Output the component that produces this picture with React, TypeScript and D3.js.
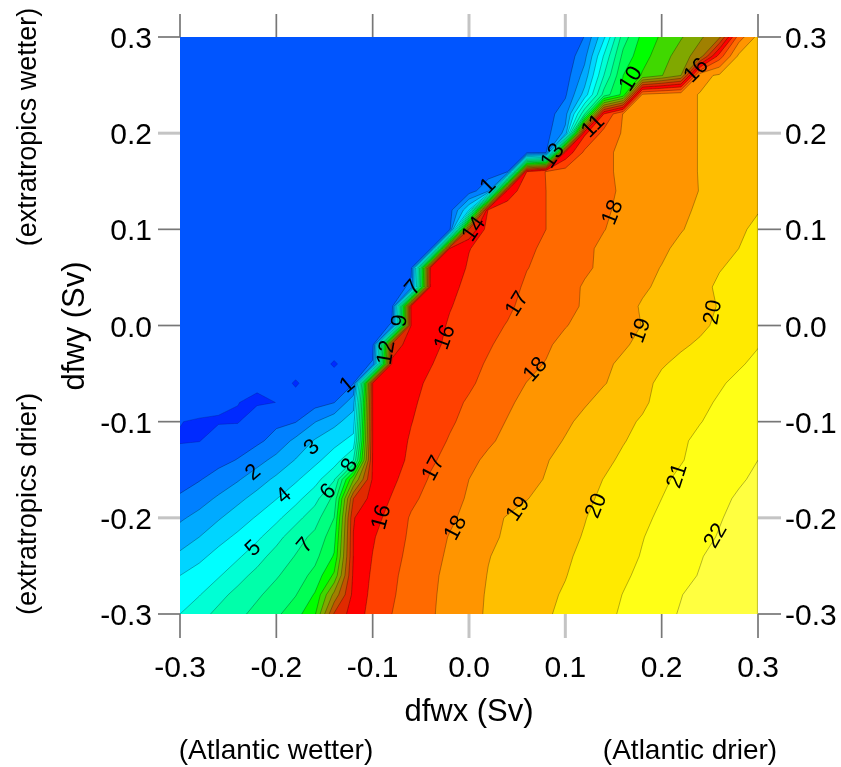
import React from "react";
import * as d3 from "d3";

const W = 841, H = 767;
const levels = d3.range(0, 23);
const bandColors = ["#0055ff","#0080ff","#00aaff","#00d5ff","#00ffff","#00ffd5","#00ffaa","#00ff80","#00ff55","#00ff00","#40d800","#80a800","#a08000","#c05500","#e02a00","#ff0000","#ff3f00","#ff6a00","#ff9500","#ffbf00","#ffea00","#ffff15","#ffff40"];
const belowZero = "#002aff";

const xTicks = [-0.3,-0.2,-0.1,0,0.1,0.2,0.3];
const yTicks = [-0.3,-0.2,-0.1,0,0.1,0.2,0.3];
const softX = [0,0.1];
const softY = [-0.2,0.2];

// Model output (rows: dfwy -0.30 → +0.30 by 0.02; columns: dfwx -0.30 → +0.30 by 0.02)
const r00=[5.0,5.65,6.25,6.75,7.3,7.8,8.6,9.85,14.1,15.5,16.35,17,17.45,17.9,18.3,18.75,19.1,19.38,19.64,19.9,20.2,20.5,20.8,21.1,21.43,21.75,22.07,22.38,22.7,23,23.3];
const r01=[4.5,4.95,5.7,6.3,6.85,7.4,7.95,9.1,12.3,15.3,16.25,16.9,17.4,17.85,18.3,18.7,19.08,19.33,19.6,19.85,20.08,20.37,20.7,21.02,21.33,21.65,21.97,22.3,22.6,22.9,23.2];
const r02=[4.0,4.45,4.9,5.65,6.3,6.9,7.5,8.3,10.2,15.2,16.15,16.85,17.3,17.8,18.25,18.65,19.03,19.25,19.5,19.75,19.97,20.28,20.57,20.88,21.17,21.47,21.76,22.05,22.35,22.65,22.95];
const r03=[3.2,3.75,4.35,4.85,5.6,6.4,7.05,7.7,9.1,15.05,16.03,16.7,17.25,17.7,18.15,18.55,18.97,19.2,19.4,19.65,19.9,20.15,20.45,20.75,21.05,21.35,21.65,21.95,22.25,22.6,22.9];
const r04=[2.5,3.0,3.65,4.2,4.8,5.65,6.6,7.25,8.6,15.02,15.9,16.6,17.15,17.6,18.05,18.45,18.83,19.12,19.35,19.58,19.8,20.05,20.35,20.65,20.97,21.25,21.5,21.8,22.05,22.35,22.6];
const r05=[1.85,2.3,2.9,3.5,4.1,4.75,5.65,6.6,8.0,14.95,15.63,16.37,17.1,17.5,17.85,18.25,18.7,19.07,19.3,19.52,19.75,19.97,20.25,20.55,20.85,21.13,21.4,21.68,21.95,22.2,22.5];
const r06=[1.2,1.6,2.15,2.75,3.35,3.97,4.67,5.65,7.3,14.0,15.4,16.07,16.8,17.3,17.7,18.1,18.35,18.65,18.97,19.27,19.55,19.85,20.13,20.42,20.7,21.0,21.27,21.55,21.82,22.1,22.35];
const r07=[0.45,0.93,1.4,1.9,2.55,3.2,3.85,4.6,5.9,10.9,15.15,15.8,16.45,17.1,17.5,18,18.25,18.5,18.75,19.05,19.37,19.68,20.02,20.3,20.58,20.87,21.15,21.4,21.65,21.9,22.15];
const r08=[0.3,0.45,0.7,1.05,1.65,2.3,3.05,3.75,4.5,6.0,15.05,15.6,16.2,16.85,17.3,17.75,18.2,18.4,18.6,18.95,19.25,19.55,19.8,20.15,20.45,20.7,20.95,21.25,21.5,21.75,22.0];
const r09=[-0.05,-0.02,0.3,0.5,0.8,1.35,2.25,3.1,3.7,4.3,15,15.55,16.1,16.6,17.08,17.45,17.85,18.25,18.45,18.65,19.07,19.4,19.72,19.95,20.26,20.57,20.87,21.2,21.45,21.7,21.95];
const r10=[0.02,-0.09,-0.05,-0.05,0.5,0.8,0.95,1.95,2.7,3.5,15.0,15.55,15.97,16.4,16.87,17.28,17.65,18.05,18.3,18.55,18.82,19.25,19.55,19.83,20.08,20.38,20.68,20.97,21.25,21.55,21.8];
const r11=[0.4,0.4,0.1,0.01,-0.1,0.005,0.4,0.6,0.97,2.6,15.02,15.45,15.85,16.3,16.75,17.1,17.5,17.85,18.25,18.5,18.7,18.9,19.3,19.6,19.87,20.25,20.55,20.8,21.1,21.35,21.6];
const r12=[0.5,0.5,0.5,0.5,0.1,0.5,-0.11,0.5,0.5,0.95,15.0,15.35,15.75,16.15,16.6,16.87,17.25,17.65,18.02,18.35,18.55,18.75,18.95,19.3,19.68,20.25,20.5,20.7,20.9,21.2,21.45];
const r13=[0.5,0.5,0.5,0.5,0.5,0.5,0.5,0.5,-0.11,0.5,1.1,15.2,15.6,15.95,16.35,16.7,17.1,17.4,17.75,18.05,18.4,18.6,18.85,19.15,19.55,19.9,20.25,20.5,20.7,20.9,21.2];
const r14=[0.5,0.5,0.5,0.5,0.5,0.5,0.5,0.5,0.5,0.5,0.6,14.5,15.4,15.75,16.2,16.55,16.9,17.3,17.6,17.85,18.3,18.55,18.75,18.9,19.2,19.55,19.85,20.15,20.4,20.65,20.95];
const r15=[0.5,0.5,0.5,0.5,0.5,0.5,0.5,0.5,0.5,0.5,0.5,1.1,15.1,15.6,16.1,16.45,16.75,17.05,17.35,17.6,17.95,18.3,18.55,18.75,19.02,19.35,19.6,19.8,20.2,20.45,20.7];
const r16=[0.5,0.5,0.5,0.5,0.5,0.5,0.5,0.5,0.5,0.5,0.5,0.55,15.2,15.55,15.95,16.3,16.6,16.85,17.25,17.5,17.75,18.1,18.4,18.65,19.1,19.4,19.65,19.85,20.03,20.25,20.5];
const r17=[0.5,0.5,0.5,0.5,0.5,0.5,0.5,0.5,0.5,0.5,0.5,0.5,1.2,15.2,15.8,16.2,16.5,16.65,17.15,17.4,17.65,18.1,18.35,18.55,18.85,19.2,19.45,19.75,20.15,20.4,20.6];
const r18=[0.5,0.5,0.5,0.5,0.5,0.5,0.5,0.5,0.5,0.5,0.5,0.5,0.8,15.1,15.5,16.1,16.35,16.55,16.97,17.25,17.55,17.85,18.2,18.5,18.75,19.03,19.3,19.55,19.95,20.2,20.45];
const r19=[0.5,0.5,0.5,0.5,0.5,0.5,0.5,0.5,0.5,0.5,0.5,0.5,0.5,0.7,15.1,15.97,16.3,16.55,16.8,17.2,17.5,17.8,18.2,18.45,18.7,18.85,19.2,19.5,19.8,20.0,20.25];
const r20=[0.5,0.5,0.5,0.5,0.5,0.5,0.5,0.5,0.5,0.5,0.5,0.5,0.5,0.5,0.7,14,16.5,16.65,16.85,17.0,17.35,17.65,17.97,18.3,18.55,18.75,18.95,19.25,19.55,19.85,20.2];
const r21=[0.5,0.5,0.5,0.5,0.5,0.5,0.5,0.5,0.5,0.5,0.5,0.5,0.5,0.5,0.6,4,16.2,16.45,16.7,17.0,17.25,17.55,17.9,18.15,18.35,18.55,18.85,19.12,19.42,19.7,19.95];
const r22=[0.5,0.5,0.5,0.5,0.5,0.5,0.5,0.5,0.5,0.5,0.5,0.5,0.5,0.5,0.5,0.5,1.8,15.5,16.5,17.0,17.15,17.45,17.8,18.12,18.3,18.5,18.7,19.03,19.25,19.45,19.6];
const r23=[0.5,0.5,0.5,0.5,0.5,0.5,0.5,0.5,0.5,0.5,0.5,0.5,0.5,0.5,0.5,0.5,0.5,0.9,16,17.05,17.4,17.65,17.85,18.15,18.35,18.5,18.7,19.05,19.25,19.4,19.55];
const r24=[0.5,0.5,0.5,0.5,0.5,0.5,0.5,0.5,0.5,0.5,0.5,0.5,0.5,0.5,0.5,0.5,0.5,0.5,0.6,0.9,15.2,17.2,17.8,18.2,18.35,18.5,18.7,19.05,19.25,19.4,19.55];
const r25=[0.5,0.5,0.5,0.5,0.5,0.5,0.5,0.5,0.5,0.5,0.5,0.5,0.5,0.5,0.5,0.5,0.5,0.5,0.5,0.6,2.3,15.8,17.3,18.1,18.3,18.5,18.7,19.05,19.25,19.4,19.55];
const r26=[0.5,0.5,0.5,0.5,0.5,0.5,0.5,0.5,0.5,0.5,0.5,0.5,0.5,0.5,0.5,0.5,0.5,0.5,0.5,0.5,1.6,6.9,16,18.05,18.3,18.5,18.7,19.05,19.25,19.42,19.55];
const r27=[0.5,0.5,0.5,0.5,0.5,0.5,0.5,0.5,0.5,0.5,0.5,0.5,0.5,0.5,0.5,0.5,0.5,0.5,0.5,0.5,0.85,3.4,7.4,9.3,18.2,18.5,18.7,19.05,19.3,19.45,19.55];
const r28=[0.5,0.5,0.5,0.5,0.5,0.5,0.5,0.5,0.5,0.5,0.5,0.5,0.5,0.5,0.5,0.5,0.5,0.5,0.5,0.5,0.5,2.4,6,9.0,10.1,10.95,12.0,18.7,19.15,19.35,19.5];
const r29=[0.5,0.5,0.5,0.5,0.5,0.5,0.5,0.5,0.5,0.5,0.5,0.5,0.5,0.5,0.5,0.5,0.5,0.5,0.5,0.5,0.3,1.7,5.1,8.3,9.65,10.5,11.55,12.5,16.5,19.2,19.45];
const r30=[0.5,0.5,0.5,0.5,0.5,0.5,0.5,0.5,0.5,0.5,0.5,0.5,0.5,0.5,0.5,0.5,0.5,0.5,0.5,0.5,0.5,1.02,3.8,7.5,9.3,10.15,10.9,11.85,12.8,17.5,19.3];
const rows = [r00,r01,r02,r03,r04,r05,r06,r07,r08,r09,r10,r11,r12,r13,r14,r15,r16,r17,r18,r19,r20,r21,r22,r23,r24,r25,r26,r27,r28,r29,r30];

// Contour labels: text, dfwx, dfwy, angle
const labelText = ["1","2","3","4","5","6","7","8","16","17","18","19","20","21","22","17","18","19","20","16","14","1","13","11","10","16","7","9","12","18"];
const labelX = [-0.127,-0.225,-0.164,-0.193,-0.225,-0.147,-0.171,-0.125,-0.092,-0.038,-0.015,0.05,0.131,0.215,0.255,0.049,0.068,0.177,0.252,-0.026,0.004,0.019,0.086,0.128,0.167,0.235,-0.059,-0.073,-0.087,0.148];
const labelY = [-0.061,-0.152,-0.126,-0.176,-0.231,-0.172,-0.228,-0.145,-0.199,-0.148,-0.21,-0.19,-0.187,-0.156,-0.218,0.023,-0.045,-0.005,0.014,-0.012,0.101,0.146,0.177,0.208,0.257,0.266,0.04,0.005,-0.028,0.118];
const labelAngle = [-40,-40,-42,-40,-43,-45,-50,-60,-75,-62,-62,-55,-68,-72,-60,-58,-48,-70,-80,-70,-55,-45,-55,-45,-58,-45,-50,-82,-80,-68];

const margin = { left: 180, right: 758, top: 37, bottom: 614 };

export default function App() {
  const x = d3.scaleLinear().domain([-0.3, 0.3]).range([margin.left, margin.right]);
  const y = d3.scaleLinear().domain([-0.3, 0.3]).range([margin.bottom, margin.top]);
  const nx = rows[0].length, ny = rows.length;
  const flat = rows.flat();
  const contours = d3.contours().size([nx, ny]).thresholds(levels)(flat);
  const proj = d3.geoTransform({
    point(this: any, cx: number, cy: number) {
      this.stream.point(x(-0.3 + (cx - 0.5) * 0.02), y(-0.3 + (cy - 0.5) * 0.02));
    },
  });
  const path = d3.geoPath(proj);
  const font = "'Liberation Sans', Arial, sans-serif";
  const labels = labelText.map((t, i) => ({ t, x: labelX[i], y: labelY[i], a: labelAngle[i] }));
  const tick = (soft: boolean) => ({ stroke: soft ? "#c4c4c4" : "#777", strokeWidth: soft ? 3 : 1.7 });
  return (
    <svg width={W} height={H} style={{ position: "absolute", left: 0, top: 0, display: "block", background: "#fff" }} fontFamily={font}>
      <defs>
        <clipPath id="plot"><rect x={margin.left} y={margin.top} width={margin.right - margin.left} height={margin.bottom - margin.top} /></clipPath>
        <filter id="soft" x="-5%" y="-5%" width="110%" height="110%"><feGaussianBlur stdDeviation="0.7" /></filter>
      </defs>
      <g filter="url(#soft)">
        <g clipPath="url(#plot)">
          <rect x={margin.left} y={margin.top} width={margin.right - margin.left} height={margin.bottom - margin.top} fill={belowZero} />
          {contours.map((c, i) => <path key={i} d={path(c as any) ?? ""} fill={bandColors[i]} />)}
          {contours.slice(1).map((c, i) => <path key={i} d={path(c as any) ?? ""} fill="none" stroke="#000" strokeOpacity={0.32} strokeWidth={0.9} />)}
          <path d={path(contours[0] as any) ?? ""} fill="none" stroke="#000" strokeOpacity={0.25} strokeWidth={0.6} />
          <line x1={margin.right - 0.5} x2={margin.right - 0.5} y1={margin.top} y2={margin.bottom} stroke="#000" strokeOpacity={0.22} strokeWidth={1.2} />
        </g>
        {xTicks.map((t) => (
          <g key={t}>
            <line x1={x(t)} x2={x(t)} y1={margin.bottom} y2={638} {...tick(softX.includes(t))} />
            <line x1={x(t)} x2={x(t)} y1={margin.top} y2={14} {...tick(softX.includes(t))} />
            <text x={x(t)} y={677} textAnchor="middle" fontSize={30}>{t.toFixed(1)}</text>
          </g>
        ))}
        {yTicks.map((t) => (
          <g key={t}>
            <line x1={158} x2={margin.left} y1={y(t)} y2={y(t)} {...tick(softY.includes(t))} />
            <line x1={margin.right} x2={781} y1={y(t)} y2={y(t)} {...tick(softY.includes(t))} />
            <text x={152} y={y(t) + 11} textAnchor="end" fontSize={30}>{t.toFixed(1)}</text>
            <text x={785} y={y(t) + 11} textAnchor="start" fontSize={30}>{t.toFixed(1)}</text>
          </g>
        ))}
        {labels.map((l, i) => (
          <text key={i} transform={`translate(${x(l.x)},${y(l.y)}) rotate(${l.a})`} textAnchor="middle" dominantBaseline="central" fontSize={22} fill="#000">{l.t}</text>
        ))}
        <text x={469} y={721} textAnchor="middle" fontSize={31}>dfwx (Sv)</text>
        <text x={276} y={759} textAnchor="middle" fontSize={28}>(Atlantic wetter)</text>
        <text x={690} y={759} textAnchor="middle" fontSize={28}>(Atlantic drier)</text>
        <text transform="translate(84,326) rotate(-90)" textAnchor="middle" fontSize={31}>dfwy (Sv)</text>
        <text transform="translate(36,127) rotate(-90)" textAnchor="middle" fontSize={27}>(extratropics wetter)</text>
        <text transform="translate(36,504) rotate(-90)" textAnchor="middle" fontSize={27.4}>(extratropics drier)</text>
      </g>
    </svg>
  );
}
